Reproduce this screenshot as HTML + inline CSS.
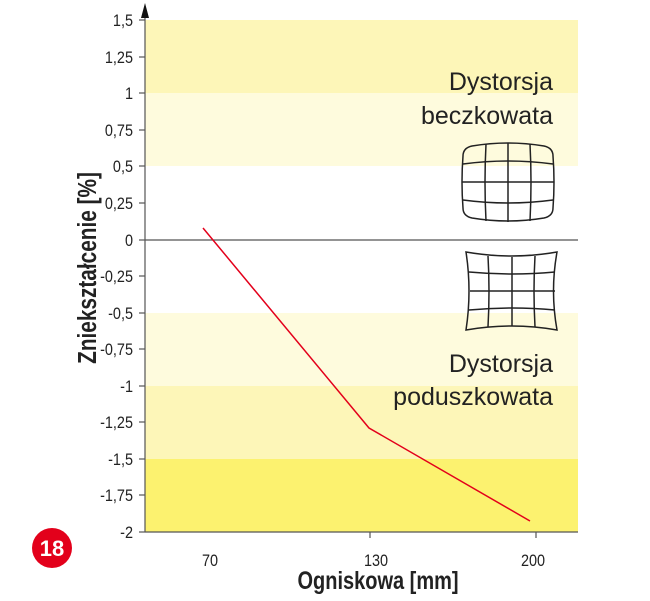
<!DOCTYPE html><html><head><style>body{margin:0;background:#fff}</style></head><body>
<svg width="650" height="596" xmlns="http://www.w3.org/2000/svg" font-family="Liberation Sans, sans-serif">
<rect x="145" y="20" width="433" height="73" fill="#fdf6b8"/>
<rect x="145" y="93" width="433" height="73" fill="#fefbdd"/>
<rect x="145" y="313" width="433" height="73" fill="#fefbdd"/>
<rect x="145" y="386" width="433" height="73" fill="#fdf6b8"/>
<rect x="145" y="459" width="433" height="73" fill="#fcf26f"/>
<line x1="145" y1="8" x2="145" y2="532" stroke="#555" stroke-width="1.2"/>
<polygon points="141,18 149,18 145,3" fill="#111"/>
<line x1="145" y1="532" x2="578" y2="532" stroke="#555" stroke-width="1.2"/>
<line x1="145" y1="240" x2="578" y2="240" stroke="#555" stroke-width="1.2"/>
<g stroke="#555" stroke-width="1.2">
<line x1="139" y1="20" x2="145" y2="20"/><line x1="139" y1="57" x2="145" y2="57"/><line x1="139" y1="93" x2="145" y2="93"/><line x1="139" y1="130" x2="145" y2="130"/><line x1="139" y1="166" x2="145" y2="166"/><line x1="139" y1="203" x2="145" y2="203"/><line x1="139" y1="240" x2="145" y2="240"/><line x1="139" y1="276" x2="145" y2="276"/><line x1="139" y1="313" x2="145" y2="313"/><line x1="139" y1="349" x2="145" y2="349"/><line x1="139" y1="386" x2="145" y2="386"/><line x1="139" y1="422" x2="145" y2="422"/><line x1="139" y1="459" x2="145" y2="459"/><line x1="139" y1="495" x2="145" y2="495"/><line x1="139" y1="532" x2="145" y2="532"/>
<line x1="370" y1="532" x2="370" y2="538"/><line x1="536" y1="532" x2="536" y2="538"/>
</g>
<g font-size="17" fill="#222" text-anchor="end" transform="translate(133,0) scale(0.85,1)">
<text x="0" y="26">1,5</text><text x="0" y="63">1,25</text><text x="0" y="99">1</text><text x="0" y="136">0,75</text><text x="0" y="172">0,5</text><text x="0" y="209">0,25</text><text x="0" y="246">0</text><text x="0" y="282">-0,25</text><text x="0" y="319">-0,5</text><text x="0" y="355">-0,75</text><text x="0" y="392">-1</text><text x="0" y="428">-1,25</text><text x="0" y="465">-1,5</text><text x="0" y="501">-1,75</text><text x="0" y="538">-2</text>
</g>
<g font-size="17" fill="#222" text-anchor="middle">
<text transform="translate(210,566) scale(0.85,1)">70</text><text transform="translate(376,566) scale(0.85,1)">130</text><text transform="translate(533,566) scale(0.85,1)">200</text>
</g>
<text transform="translate(378,589) scale(0.8,1)" text-anchor="middle" font-size="25" font-weight="bold" fill="#222">Ogniskowa [mm]</text>
<text transform="translate(96,268) rotate(-90) scale(0.8,1)" text-anchor="middle" font-size="26" font-weight="bold" fill="#222">Zniekształcenie [%]</text>
<polyline points="203,228 369,428 530,521" fill="none" stroke="#e3001b" stroke-width="1.5"/>
<g font-size="25" fill="#222" text-anchor="end">
<text x="553" y="90">Dystorsja</text><text x="553" y="124">beczkowata</text>
<text x="553" y="372">Dystorsja</text><text x="553" y="405">poduszkowata</text>
</g>
<g fill="none" stroke="#222" stroke-width="1.5">
<path d="M472,146 Q508,140 544,146 Q553,148 553,156 Q555,182 553,208 Q553,216 544,218 Q508,224 472,218 Q463,216 463,208 Q461,182 463,156 Q463,148 472,146Z"/>
<path d="M486,144 Q484,182 486,221 M508,143 L508,222 M530,144 Q532,182 530,221"/>
<path d="M463,164 Q508,158 553,164 M462,182 L554,182 M463,200 Q508,206 553,200"/>
<path d="M466,252 Q512,260 557,252 Q550,291 557,330 Q512,322 466,330 Q472,291 466,252Z"/>
<path d="M488,256 Q490,291 488,327 M512,257 L512,326 M535,256 Q533,291 535,327"/>
<path d="M469,272 Q512,276 555,272 M470,291 L555,291 M469,310 Q512,306 555,310"/>
</g>
<circle cx="52" cy="548" r="20" fill="#e3001b"/>
<text x="52" y="556" text-anchor="middle" font-size="22" font-weight="bold" fill="#fff">18</text>
</svg>
</body></html>
